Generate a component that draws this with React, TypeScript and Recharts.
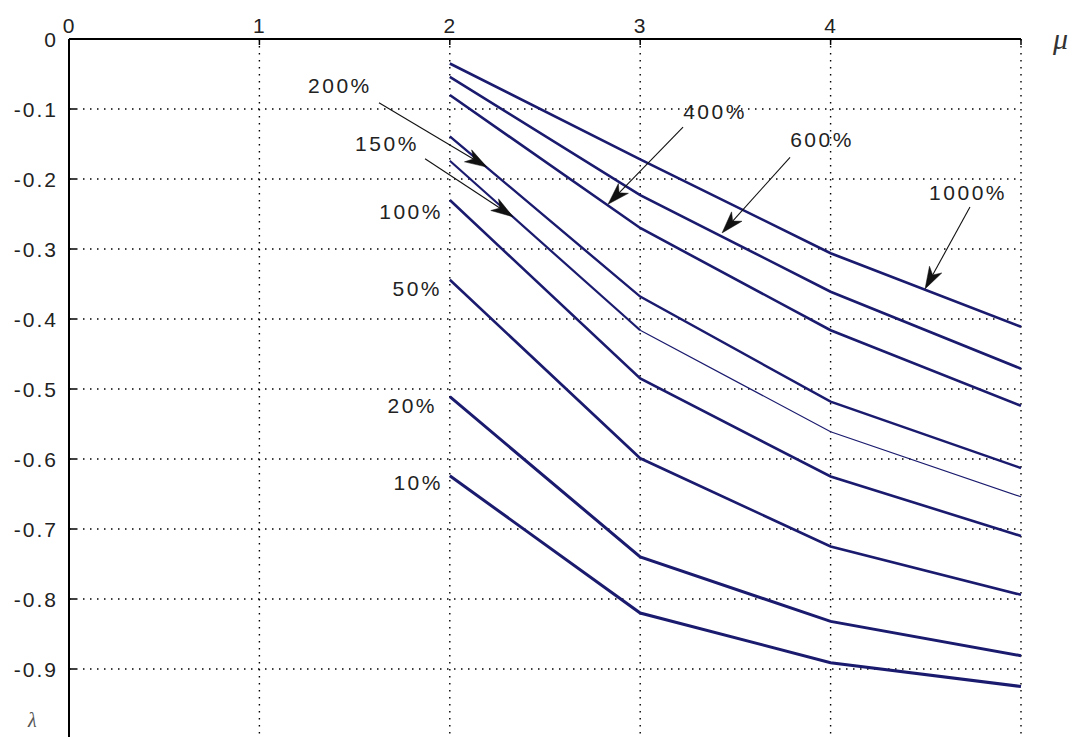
import React from 'react';
import { LineChart, Line, XAxis, YAxis, CartesianGrid, ReferenceLine, ReferenceDot } from 'recharts';

// x positions (mu) where each curve is sampled
const muValues = [2, 3, 4, 5];

// lambda values for each curve
const s1000 = [-0.035, -0.172, -0.306, -0.411];
const s600 = [-0.054, -0.223, -0.361, -0.471];
const s400 = [-0.080, -0.270, -0.416, -0.524];
const s200 = [-0.139, -0.368, -0.518, -0.613];
const s150 = [-0.174, -0.416, -0.561, -0.654];
const s100 = [-0.230, -0.485, -0.625, -0.710];
const s50 = [-0.344, -0.599, -0.725, -0.794];
const s20 = [-0.511, -0.740, -0.832, -0.881];
const s10 = [-0.624, -0.820, -0.891, -0.925];

const xTicks = [0, 1, 2, 3, 4, 5];
const xTickLabels = ['0', '1', '2', '3', '4', ''];
const yTicks = [0, -0.1, -0.2, -0.3, -0.4, -0.5, -0.6, -0.7, -0.8, -0.9];
const yTickLabels = ['0', '-0.1', '-0.2', '-0.3', '-0.4', '-0.5', '-0.6', '-0.7', '-0.8', '-0.9'];

// curve labels (text, position in data coordinates)
const labelTexts = ['200%', '150%', '100%', '50%', '20%', '10%', '400%', '600%', '1000%'];
const labelMu = [1.423, 1.670, 1.964, 1.959, 1.933, 1.964, 3.393, 3.955, 4.722];
const labelLambda = [-0.067, -0.149, -0.246, -0.356, -0.524, -0.634, -0.104, -0.144, -0.219];
const labelAnchor = ['middle', 'middle', 'end', 'end', 'end', 'end', 'middle', 'middle', 'middle'];

// arrows: tail -> tip in data coordinates
const arrowTailMu = [1.628, 1.870, 3.225, 3.787, 4.732];
const arrowTailLambda = [-0.091, -0.171, -0.126, -0.169, -0.240];
const arrowTipMu = [2.195, 2.332, 2.831, 3.430, 4.496];
const arrowTipLambda = [-0.183, -0.254, -0.236, -0.277, -0.357];

const data = muValues.map((mu, i) => ({
  mu,
  s1000: s1000[i],
  s600: s600[i],
  s400: s400[i],
  s200: s200[i],
  s150a: i <= 1 ? s150[i] : null,
  s150b: i >= 1 ? s150[i] : null,
  s100: s100[i],
  s50: s50[i],
  s20: s20[i],
  s10: s10[i],
}));

const LINE_COLOR = '#1a1a6e';
const FONT = '"Liberation Sans", Arial, sans-serif';
const X_MARGIN = 6;
const Y_MARGIN = 11;

const XTick = (props: any) => {
  const { x, y, payload } = props;
  const idx = xTicks.indexOf(payload.value);
  return (
    <g>
      <line x1={x} x2={x} y1={y + X_MARGIN} y2={y + X_MARGIN + 6} stroke="#000" strokeWidth={1.5} />
      <text x={x} y={y} textAnchor="middle" fontSize={21} fontFamily={FONT} fill="#222" letterSpacing={1}>
        {idx >= 0 ? xTickLabels[idx] : ''}
      </text>
    </g>
  );
};

const YTick = (props: any) => {
  const { x, y, payload } = props;
  const idx = yTicks.findIndex((t) => Math.abs(t - payload.value) < 1e-9);
  return (
    <g>
      <line x1={x + Y_MARGIN} x2={x + Y_MARGIN + 7} y1={y} y2={y} stroke="#000" strokeWidth={1.5} />
      <text x={x} y={y} dy="0.36em" textAnchor="end" fontSize={21} fontFamily={FONT} fill="#222" letterSpacing={2}>
        {idx >= 0 ? yTickLabels[idx] : ''}
      </text>
    </g>
  );
};

const Arrow = (props: any) => {
  const { x1, y1, x2, y2 } = props;
  const dx = x2 - x1;
  const dy = y2 - y1;
  const len = Math.sqrt(dx * dx + dy * dy) || 1;
  const ux = dx / len;
  const uy = dy / len;
  const nx = -uy;
  const ny = ux;
  const L = 22;
  const W = 7;
  const bx = x2 - L * ux;
  const by = y2 - L * uy;
  const mx = x2 - 0.72 * L * ux;
  const my = y2 - 0.72 * L * uy;
  const pts = `${x2},${y2} ${bx + W * nx},${by + W * ny} ${mx},${my} ${bx - W * nx},${by - W * ny}`;
  return (
    <g>
      <line x1={x1} y1={y1} x2={mx} y2={my} stroke="#111" strokeWidth={1.1} />
      <polygon points={pts} fill="#111" stroke="#111" strokeWidth={0.5} />
    </g>
  );
};

export default function App() {
  return (
    <div style={{ position: 'absolute', left: 0, top: 0, width: 1077, height: 737, overflow: 'hidden', background: '#fff' }}>
      <LineChart width={1077} height={745} data={data} margin={{ top: 9, right: 56, bottom: 6, left: 0 }}>
        <CartesianGrid stroke="#000" strokeWidth={1.4} strokeDasharray="1.5 5.5" />
        <XAxis
          dataKey="mu"
          type="number"
          orientation="top"
          domain={[0, 5]}
          ticks={xTicks}
          interval={0}
          height={30}
          tickSize={0}
          tickMargin={X_MARGIN}
          tickLine={false}
          axisLine={{ stroke: '#000', strokeWidth: 2 }}
          tick={<XTick />}
        />
        <YAxis
          type="number"
          domain={[-1, 0]}
          ticks={yTicks}
          interval={0}
          width={69}
          tickSize={0}
          tickMargin={Y_MARGIN}
          tickLine={false}
          axisLine={{ stroke: '#000', strokeWidth: 2 }}
          tick={<YTick />}
        />
        <Line dataKey="s1000" stroke={LINE_COLOR} strokeWidth={2.6} dot={false} isAnimationActive={false} />
        <Line dataKey="s600" stroke={LINE_COLOR} strokeWidth={2.6} dot={false} isAnimationActive={false} />
        <Line dataKey="s400" stroke={LINE_COLOR} strokeWidth={2.6} dot={false} isAnimationActive={false} />
        <Line dataKey="s200" stroke={LINE_COLOR} strokeWidth={2.4} dot={false} isAnimationActive={false} />
        <Line dataKey="s150a" stroke={LINE_COLOR} strokeWidth={2.2} dot={false} isAnimationActive={false} />
        <Line dataKey="s150b" stroke={LINE_COLOR} strokeWidth={1.2} dot={false} isAnimationActive={false} />
        <Line dataKey="s100" stroke={LINE_COLOR} strokeWidth={2.6} dot={false} isAnimationActive={false} />
        <Line dataKey="s50" stroke={LINE_COLOR} strokeWidth={2.6} dot={false} isAnimationActive={false} />
        <Line dataKey="s20" stroke={LINE_COLOR} strokeWidth={3} dot={false} isAnimationActive={false} />
        <Line dataKey="s10" stroke={LINE_COLOR} strokeWidth={3} dot={false} isAnimationActive={false} />
        {arrowTailMu.map((m, i) => (
          <ReferenceLine
            key={'arrow' + i}
            segment={[
              { x: m, y: arrowTailLambda[i] },
              { x: arrowTipMu[i], y: arrowTipLambda[i] },
            ]}
            ifOverflow="visible"
            shape={(p: any) => <Arrow {...p} />}
          />
        ))}
        {labelTexts.map((t, i) => (
          <ReferenceDot
            key={'label' + i}
            x={labelMu[i]}
            y={labelLambda[i]}
            r={0}
            ifOverflow="visible"
            shape={(p: any) => (
              <text
                x={p.cx}
                y={p.cy}
                dy="0.36em"
                textAnchor={labelAnchor[i]}
                fontSize={21}
                fontFamily={FONT}
                fill="#222"
                letterSpacing={2.5}
              >
                {t}
              </text>
            )}
          />
        ))}
      </LineChart>
      <span
        style={{
          position: 'absolute',
          left: 1053,
          top: 24,
          fontFamily: '"Liberation Serif", "Times New Roman", serif',
          fontStyle: 'italic',
          fontSize: 30,
          lineHeight: '30px',
          color: '#333',
        }}
      >
        μ
      </span>
      <span
        style={{
          position: 'absolute',
          left: 28,
          top: 710,
          fontFamily: '"Liberation Serif", "Times New Roman", serif',
          fontStyle: 'italic',
          fontSize: 20,
          lineHeight: '20px',
          color: '#555',
        }}
      >
        λ
      </span>
    </div>
  );
}
